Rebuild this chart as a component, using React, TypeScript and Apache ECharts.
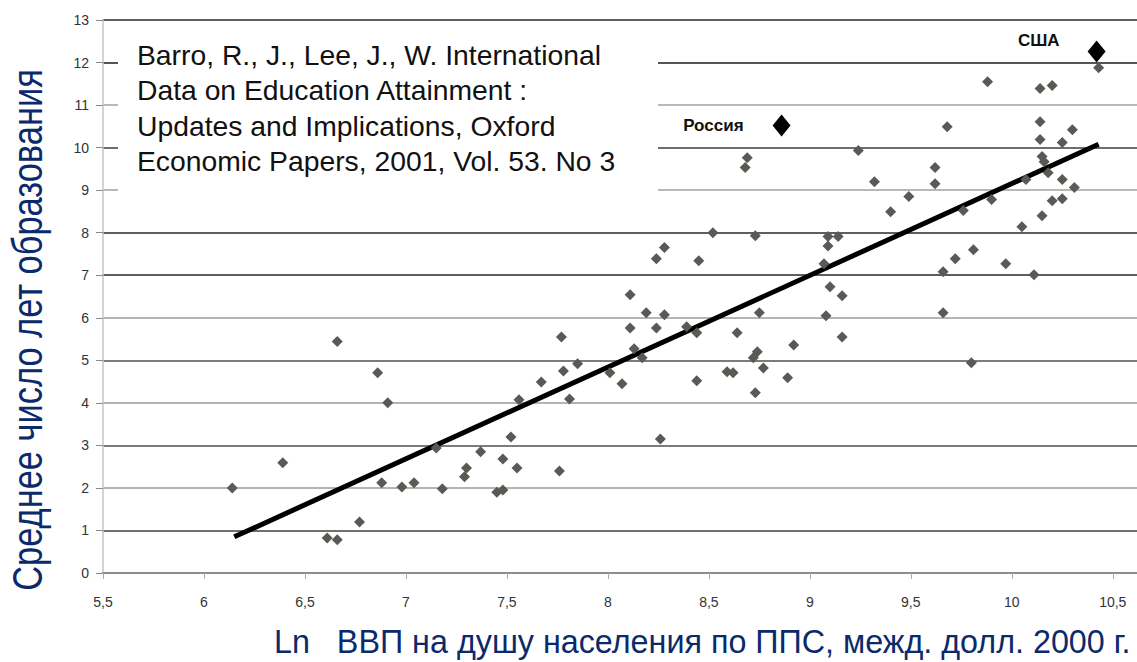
import { useEffect, useRef } from "react";
import * as echarts from "echarts";

// Scatter points: [Ln GDP per capita (PPP, 2000 intl $), mean years of schooling]
const points: [number, number][] = [
  [6.14, 2.0], [6.39, 2.59], [6.66, 5.44], [6.61, 0.82], [6.66, 0.78], [6.77, 1.2],
  [6.86, 4.71], [6.91, 4.0], [6.88, 2.12], [6.98, 2.02], [7.04, 2.12], [7.18, 1.98],
  [7.15, 2.94], [7.3, 2.47], [7.29, 2.26], [7.37, 2.85], [7.48, 2.68], [7.55, 2.47],
  [7.45, 1.9], [7.48, 1.95], [7.52, 3.2], [7.56, 4.07], [7.76, 2.4], [7.81, 4.09],
  [7.67, 4.49], [7.78, 4.75], [7.85, 4.92], [7.77, 5.55], [8.01, 4.71], [8.07, 4.45],
  [8.11, 5.76], [8.11, 6.54], [8.13, 5.27], [8.17, 5.06], [8.19, 6.12], [8.28, 6.07],
  [8.24, 5.76], [8.28, 7.65], [8.24, 7.39], [8.45, 7.34], [8.52, 8.0], [8.26, 3.15],
  [8.39, 5.79], [8.44, 5.65], [8.44, 4.52], [8.64, 5.65], [8.59, 4.73], [8.62, 4.71],
  [8.73, 7.93], [8.75, 6.12], [8.74, 5.2], [8.72, 5.06], [8.77, 4.82], [8.73, 4.24],
  [8.69, 9.76], [8.68, 9.53], [8.89, 4.59], [8.92, 5.36], [9.08, 6.05], [9.07, 7.27],
  [9.1, 6.73], [9.16, 6.52], [9.16, 5.55], [9.09, 7.91], [9.14, 7.91], [9.09, 7.69],
  [9.24, 9.93], [9.32, 9.2], [9.4, 8.49], [9.49, 8.85], [9.62, 9.53], [9.62, 9.15],
  [9.68, 10.49], [9.66, 7.08], [9.66, 6.12], [9.72, 7.39], [9.76, 8.52], [9.81, 7.6],
  [9.8, 4.94], [9.88, 11.55], [9.9, 8.78], [9.97, 7.27], [10.05, 8.14], [10.07, 9.25],
  [10.11, 7.01], [10.14, 11.39], [10.2, 11.46], [10.14, 10.61], [10.14, 10.19], [10.15, 9.79],
  [10.18, 9.41], [10.15, 8.4], [10.2, 8.75], [10.25, 8.8], [10.25, 10.12], [10.25, 9.25],
  [10.3, 10.42], [10.31, 9.06], [10.43, 11.88], [10.16, 9.67],
];

const regressionLine: [number, number][] = [[6.15, 0.85], [10.43, 10.08]];
const russia: [number, number] = [8.86, 10.52];
const usa: [number, number] = [10.42, 12.26];
const highlightNames = ["Россия", "США"];

const xMin = 5.5;
const xMax = 10.62;
const xStep = 0.5;
const yMin = 0;
const yMax = 13;
const yStep = 1;

const sourceLines = [
  "Barro, R., J., Lee, J., W. International",
  "Data on Education Attainment :",
  "Updates and Implications, Oxford",
  "Economic Papers, 2001, Vol. 53. No 3",
];
const yTitle = "Среднее число лет образования";
const xTitle = "Ln   ВВП на душу населения по ППС, межд. долл. 2000 г.";

const gridColors = [
  "#8c8c8c", "#707070", "#b4b4b4", "#7c7c7c", "#b4b4b4", "#7c7c7c", "#b4b4b4",
  "#5e5e5e", "#5e5e5e", "#b8b8b8", "#6e6e6e", "#b8b8b8", "#555555", "#606060",
];

const FONT = "'Liberation Sans', Arial, sans-serif";
const NAVY = "#0b2a6b";

export default function App() {
  const ref = useRef<HTMLDivElement>(null);

  useEffect(() => {
    if (!ref.current) return;
    const chart = echarts.init(ref.current, undefined, { renderer: "svg" });
    const option: any = {
      animation: false,
      backgroundColor: "#ffffff",
      grid: { left: 103, right: 0, top: 20, bottom: 89 },
      xAxis: {
        type: "value",
        min: xMin,
        max: xMax,
        interval: xStep,
        axisLine: { show: true, lineStyle: { color: "#8c8c8c", width: 2 } },
        axisTick: { show: true, length: 6, lineStyle: { color: "#aaaaaa", width: 1 } },
        splitLine: { show: false },
        axisLabel: {
          margin: 22,
          color: "#333",
          fontSize: 14,
          fontFamily: FONT,
          showMaxLabel: false,
          formatter: (v: number) =>
            Math.abs(v / xStep - Math.round(v / xStep)) > 1e-6 ? "" : String(v).replace(".", ","),
        },
      },
      yAxis: {
        type: "value",
        min: yMin,
        max: yMax,
        interval: yStep,
        axisLine: { show: true, lineStyle: { color: "#c4c4d4", width: 1.5 } },
        axisTick: { show: true, length: 7, lineStyle: { color: "#888" } },
        axisLabel: { margin: 14, color: "#333", fontSize: 14, fontFamily: FONT },
        splitLine: { show: true, lineStyle: { color: gridColors, width: 2 } },
      },
      series: [
        {
          type: "line",
          data: regressionLine,
          symbol: "none",
          lineStyle: { color: "#000", width: 5 },
          z: 3,
        },
        {
          type: "scatter",
          data: points,
          symbol: "diamond",
          symbolSize: 11,
          itemStyle: { color: "#5a5a55", opacity: 1 },
          z: 4,
        },
        {
          type: "scatter",
          data: [
            { value: russia, name: highlightNames[0], label: { position: "left", distance: 29 } },
            { value: usa, name: highlightNames[1], label: { position: "left", distance: 28, offset: [0, -11] } },
          ],
          symbol: "diamond",
          symbolSize: [18, 22],
          itemStyle: { color: "#000", opacity: 1 },
          label: {
            show: true,
            formatter: "{b}",
            fontSize: 17,
            fontWeight: "bold",
            color: "#111",
            fontFamily: FONT,
          },
          z: 5,
        },
      ],
      graphic: [
        {
          type: "rect",
          shape: { x: 118, y: 24, width: 540, height: 183 },
          style: { fill: "#ffffff" },
          z: 10,
        },
        {
          type: "text",
          x: 137,
          y: 37,
          z: 11,
          style: {
            text: sourceLines.join("\n"),
            fontSize: 28.3,
            lineHeight: 35.5,
            fill: "#111",
            fontFamily: FONT,
            align: "left",
            verticalAlign: "top",
          },
        },
        {
          type: "text",
          x: 27,
          y: 330,
          rotation: Math.PI / 2,
          scaleX: 0.82,
          z: 11,
          style: {
            text: yTitle,
            fontSize: 42,
            fill: NAVY,
            fontFamily: FONT,
            align: "center",
            verticalAlign: "middle",
          },
        },
        {
          type: "text",
          x: 274,
          y: 642,
          z: 11,
          style: {
            text: xTitle,
            fontSize: 32.3,
            fill: NAVY,
            fontFamily: FONT,
            align: "left",
            verticalAlign: "middle",
          },
        },
      ],
    };
    chart.setOption(option);
    return () => chart.dispose();
  }, []);

  return (
    <div
      ref={ref}
      style={{ position: "absolute", left: 0, top: 0, width: 1137, height: 662 }}
    />
  );
}
